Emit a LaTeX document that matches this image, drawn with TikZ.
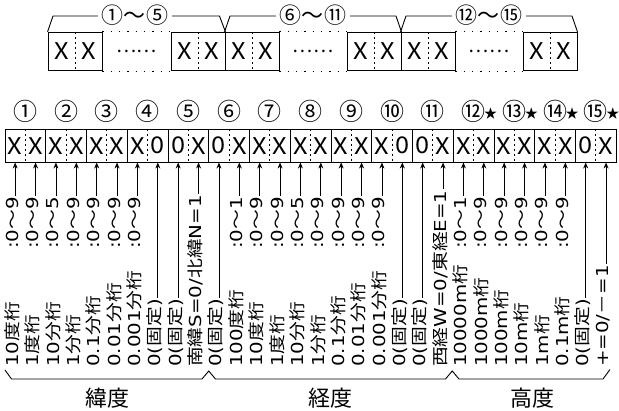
\documentclass[tikz,border=0pt]{standalone}
\usepackage{fontspec}
\setmainfont{Noto Sans CJK JP}
\newfontfamily\cjf{Noto Sans CJK JP}
\newfontfamily\latf{DejaVu Sans}
\newcommand\cj[1]{{\cjf #1}}
\usetikzlibrary{arrows.meta,calc}
\tikzset{
  mbox/.style={draw, line width=0.9pt, minimum width=40.75pt, minimum height=33.5pt, inner sep=0pt},
  tbox/.style={draw, line width=0.9pt, minimum width=54pt, minimum height=38.4pt, inner sep=0pt},
  divl/.style={line width=0.8pt, dash pattern=on 2pt off 3pt},
  dotl/.style={line width=1.1pt, dash pattern=on 1.3pt off 7pt},
  xch/.style={font=\fontsize{23}{23}\selectfont, inner sep=0pt},
  cnum/.style={font=\fontsize{24}{24}\selectfont, inner sep=0pt},
  starch/.style={font=\fontsize{13}{13}\selectfont, inner sep=0pt},
  coltxt/.style={rotate=90, font=\fontsize{16.5}{16.5}\selectfont\latf, inner sep=1pt},
  arr/.style={-{Stealth[length=6pt,width=5pt]}, line width=0.8pt},
  glab/.style={font=\fontsize{22}{22}\selectfont, inner sep=0pt},
  tlab/.style={font=\fontsize{22}{22}\selectfont, inner xsep=3pt, inner ysep=0pt},
  ell/.style={font=\fontsize{19}{19}\selectfont, inner sep=0pt},
  thin/.style={line width=0.9pt},
}
\def\rn{0\cj{～}9}
\def\rf{0\cj{～}5}
\def\ro{0\cj{～}1}
\def\dk{\cj{度桁}}
\def\fk{\cj{分桁}}
\def\mk{m\cj{桁}}
\def\kt{0(\cj{固定})}
\begin{document}
\begin{tikzpicture}[x=1pt,y=-1pt]
\useasboundingbox (0,0) rectangle (619,410);
\def\w{40.75}
% ---------- top overview ----------
\foreach \i/\cx in {1/75, 2/198, 3/252, 4/374, 5/428, 6/550}{
  \node[tbox] (t\i) at (\cx,51.5) {};
  \draw[divl] (t\i.north) -- (t\i.south);
  \node[xch] (tl\i) at ([xshift=-13.5pt]t\i.center) {\scalebox{1.1}[1]{X}};
  \node[xch] (tr\i) at ([xshift=13.5pt]t\i.center) {\scalebox{1.1}[1]{X}};
}
\foreach \a/\b in {1/2, 3/4, 5/6}{
  \draw[dotl] (t\a.north east) -- (t\b.north west);
  \draw[dotl] (t\a.south east) -- (t\b.south west);
  \node[ell] (e\a) at ($(t\a.east)!0.5!(t\b.west)$) {……};
}
\node[tlab] (L1) at (135,15) {①\hspace{1pt}～\hspace{1pt}⑤};
\node[tlab] (L2) at (313,15) {⑥\hspace{1pt}～\hspace{1pt}⑪};
\node[tlab] (L3) at (489,15) {⑫\hspace{1pt}～\hspace{1pt}⑮};
\coordinate (p1) at (53,16);  \coordinate (q1) at (219.5,16);
\coordinate (p2) at (230,16); \coordinate (q2) at (396,16);
\coordinate (p3) at (406,16); \coordinate (q3) at (572,16);
\draw[thin] (t1.north west) -- (p1) -- (p1 -| L1.west);
\draw[thin] (q1 -| L1.east) -- (q1) -- (t2.north east);
\draw[thin] (t3.north west) -- (p2) -- (p2 -| L2.west);
\draw[thin] (q2 -| L2.east) -- (q2) -- (t4.north east);
\draw[thin] (t5.north west) -- (p3) -- (p3 -| L3.west);
\draw[thin] (q3 -| L3.east) -- (q3) -- (t6.north east);
% ---------- main row ----------
\foreach \i/\l/\r/\c in {1/X/X/①, 2/X/X/②, 3/X/X/③, 4/X/0/④, 5/0/X/⑤, 6/0/X/⑥, 7/X/X/⑦, 8/X/X/⑧, 9/X/X/⑨, 10/X/0/⑩, 11/0/X/⑪, 12/X/X/⑫, 13/X/X/⑬, 14/X/X/⑭, 15/0/X/⑮}{
  \node[mbox] (m\i) at ({5+(\i-0.5)*\w},145.75) {};
  \draw[divl] (m\i.north) -- (m\i.south);
  \node[xch] (ml\i) at ([xshift=-10.19pt]m\i.center) {\scalebox{1.1}[1]{\l}};
  \node[xch] (mr\i) at ([xshift=10.19pt]m\i.center) {\scalebox{1.1}[1]{\r}};
  \node[cnum] (c\i) at ({5+(\i-0.5)*\w},111.5) {\c};
}
\foreach \i in {12,13,14,15}{
  \node[starch] (s\i) at ([xshift=17pt,yshift=-2.5pt]c\i.center) {★};
}
% ---------- columns with name and range ----------
\foreach \k/\nm/\rg in {1/{10\dk}/\rn, 2/{1\dk}/\rn, 3/{10\fk}/\rf, 4/{1\fk}/\rn, 5/{0.1\fk}/\rn, 6/{0.01\fk}/\rn, 7/{0.001\fk}/\rn,
  12/{100\dk}/\ro, 13/{10\dk}/\rn, 14/{1\dk}/\rn, 15/{10\fk}/\rf, 16/{1\fk}/\rn, 17/{0.1\fk}/\rn, 18/{0.01\fk}/\rn, 19/{0.001\fk}/\rn,
  23/{10000\mk}/\ro, 24/{1000\mk}/\rn, 25/{100\mk}/\rn, 26/{10\mk}/\rn, 27/{1\mk}/\rn, 28/{0.1\mk}/\rn}{
  \coordinate (b\k) at ({5+(\k-0.5)*\w/2},162.5);
  \node[coltxt, anchor=west] (n\k) at ({5+(\k-0.5)*\w/2-3},368) {\scalebox{1.2}[1]{\nm}};
  \node[coltxt, anchor=east] (r\k) at ({5+(\k-0.5)*\w/2-3},196) {\scalebox{1.2}[1]{:\rg}};
  \draw[arr] (b\k |- r\k.east) -- (b\k);
}
% ---------- single-text columns ----------
\foreach \k/\nm in {8/\kt, 9/\kt, 10/{\cj{南緯}S=0/\cj{北緯}N=1}, 11/\kt, 20/\kt, 21/\kt, 22/{\cj{西経}W=0/\cj{東経}E=1}, 29/\kt, 30/{+=0/\cj{－}=1}}{
  \coordinate (b\k) at ({5+(\k-0.5)*\w/2},162.5);
  \node[coltxt, anchor=west] (n\k) at ({5+(\k-0.5)*\w/2-3},368) {\scalebox{1.2}[1]{\nm}};
  \draw[arr] (b\k |- n\k.east) -- (b\k);
}
% ---------- group braces ----------
\draw[thin] (5,370) -- (11.5,379) -- (202,379) -- (208.75,371) -- (215.5,379)
  -- (445.5,379) -- (452.25,371) -- (459,379) -- (603,379) -- (610,369.5);
\node[glab] (g1) at (107,398) {緯度};
\node[glab] (g2) at (330.5,398) {経度};
\node[glab] (g3) at (532,398) {高度};
\end{tikzpicture}
\end{document}
